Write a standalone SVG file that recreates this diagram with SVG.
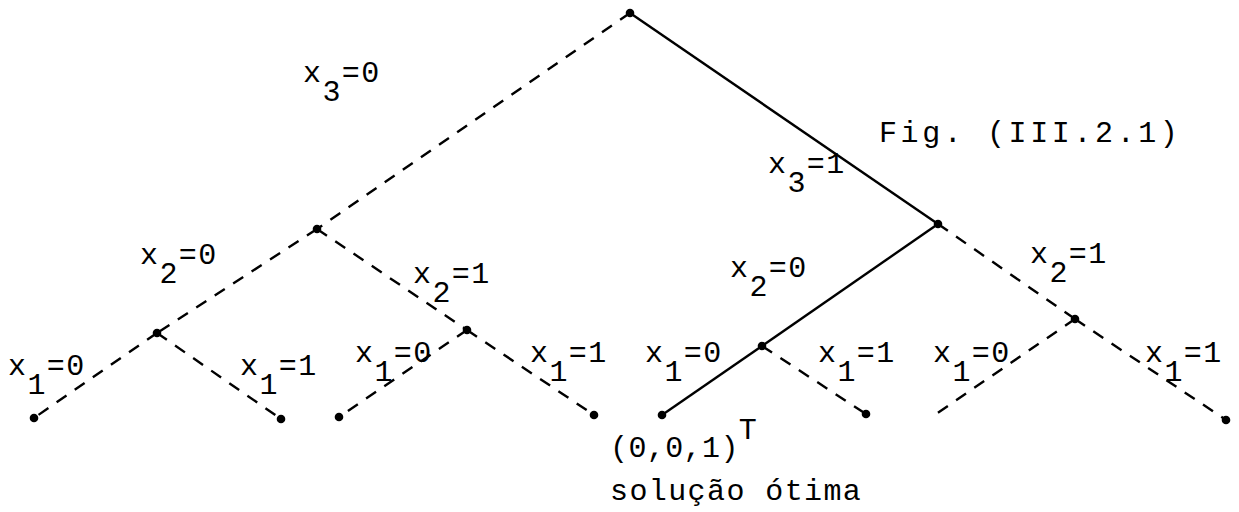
<svg xmlns="http://www.w3.org/2000/svg" width="1239" height="512" viewBox="0 0 1239 512">
<style>
.e{stroke:#000;stroke-width:2.4;fill:none;stroke-linecap:butt}
.d{stroke-dasharray:12 10}
.n{fill:#000}
text{font-family:"Liberation Mono","Courier New",monospace;font-size:30px;letter-spacing:1.4px;fill:#000}
.fig{letter-spacing:3.6px}
.vec{letter-spacing:0.4px}
</style>
<rect width="1239" height="512" fill="#fff"/>
<g id="connectors">
<line class="e d" x1="630" y1="13" x2="317" y2="229"/>
<line class="e" x1="630" y1="13" x2="938" y2="224"/>
<line class="e d" x1="317" y1="229" x2="157" y2="333"/>
<line class="e d" x1="317" y1="229" x2="467" y2="330"/>
<line class="e" x1="938" y1="224" x2="762" y2="346"/>
<line class="e d" x1="938" y1="224" x2="1075" y2="319"/>
<line class="e d" x1="157" y1="333" x2="34" y2="418"/>
<line class="e d" x1="157" y1="333" x2="281" y2="419"/>
<line class="e d" x1="467" y1="330" x2="339" y2="417"/>
<line class="e d" x1="467" y1="330" x2="594" y2="415"/>
<line class="e" x1="762" y1="346" x2="662" y2="415"/>
<line class="e d" x1="762" y1="346" x2="866" y2="414"/>
<line class="e d" x1="1075" y1="319" x2="936" y2="414"/>
<line class="e d" x1="1075" y1="319" x2="1226" y2="420"/>
</g>
<g id="n-root"><circle class="n" cx="630" cy="13" r="4.3"/></g>
<g id="n-0"><circle class="n" cx="317" cy="229" r="4.3"/></g>
<g id="n-1"><circle class="n" cx="938" cy="224" r="4.3"/></g>
<g id="n-00"><circle class="n" cx="157" cy="333" r="4.3"/></g>
<g id="n-01"><circle class="n" cx="467" cy="330" r="4.3"/></g>
<g id="n-10"><circle class="n" cx="762" cy="346" r="4.3"/></g>
<g id="n-11"><circle class="n" cx="1075" cy="319" r="4.3"/></g>
<g id="n-000"><circle class="n" cx="34" cy="418" r="4.3"/></g>
<g id="n-001"><circle class="n" cx="281" cy="419" r="4.3"/></g>
<g id="n-010"><circle class="n" cx="339" cy="417" r="4.3"/></g>
<g id="n-011"><circle class="n" cx="594" cy="415" r="4.3"/></g>
<g id="n-100"><circle class="n" cx="662" cy="415" r="4.3"/></g>
<g id="n-101"><circle class="n" cx="866" cy="414" r="4.3"/></g>
<g id="n-111"><circle class="n" cx="1226" cy="420" r="4.3"/></g>
<g id="labels">
<text x="303" y="82">x<tspan dy="19">3</tspan><tspan dy="-19">=0</tspan></text>
<text x="768" y="173">x<tspan dy="19">3</tspan><tspan dy="-19">=1</tspan></text>
<text class="fig" x="879" y="142">Fig. (III.2.1)</text>
<text x="140" y="264">x<tspan dy="19">2</tspan><tspan dy="-19">=0</tspan></text>
<text x="413" y="283">x<tspan dy="19">2</tspan><tspan dy="-19">=1</tspan></text>
<text x="730" y="277">x<tspan dy="19">2</tspan><tspan dy="-19">=0</tspan></text>
<text x="1030" y="263">x<tspan dy="19">2</tspan><tspan dy="-19">=1</tspan></text>
<text x="8" y="375">x<tspan dy="19">1</tspan><tspan dy="-19">=0</tspan></text>
<text x="240" y="375">x<tspan dy="19">1</tspan><tspan dy="-19">=1</tspan></text>
<text x="355" y="362">x<tspan dy="19">1</tspan><tspan dy="-19">=0</tspan></text>
<text x="530" y="362">x<tspan dy="19">1</tspan><tspan dy="-19">=1</tspan></text>
<text x="645" y="362">x<tspan dy="19">1</tspan><tspan dy="-19">=0</tspan></text>
<text x="818" y="362">x<tspan dy="19">1</tspan><tspan dy="-19">=1</tspan></text>
<text x="933" y="362">x<tspan dy="19">1</tspan><tspan dy="-19">=0</tspan></text>
<text x="1145" y="362">x<tspan dy="19">1</tspan><tspan dy="-19">=1</tspan></text>
<text class="vec" x="610" y="457">(0,0,1)<tspan dy="-18">T</tspan></text>
<text x="610" y="500">solução ótima</text>
</g>
</svg>
